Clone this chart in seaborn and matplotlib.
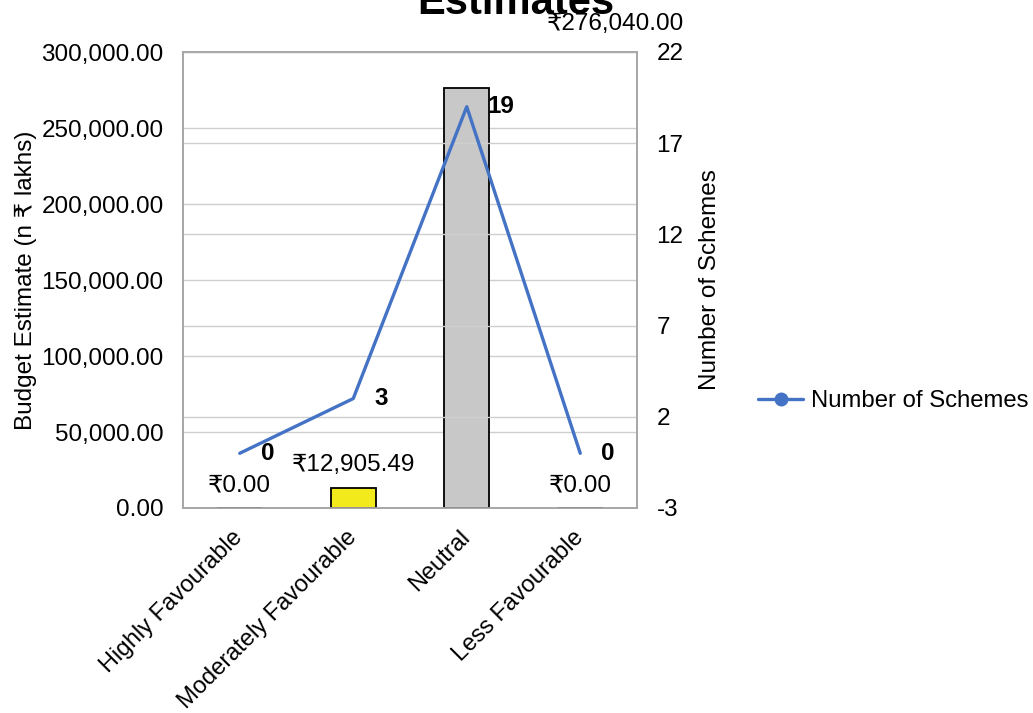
import matplotlib
matplotlib.use("Agg")
import matplotlib.pyplot as plt
import matplotlib.transforms as mtransforms
from matplotlib.lines import Line2D
from matplotlib.ticker import FuncFormatter, MultipleLocator
import seaborn as sns
import numpy as np

categories = ["Highly Favourable", "Moderately Favourable", "Neutral", "Less Favourable"]
budget = [0.0, 12905.49, 276040.00, 0.0]
schemes = [0, 3, 19, 0]
right_ticks = [-3, 2, 7, 12, 17, 22]
bar_colors = ["#4472C4", "#F2EA1A", "#C8C8C8", "#A5A5A5"]
title_text = "Estimates"
left_label = "Budget Estimate (n ₹ lakhs)"
right_label = "Number of Schemes"
line_color = "#4472C4"

sns.set_style("white")
plt.rcParams["font.family"] = ["Liberation Sans", "DejaVu Sans"]
plt.rcParams["axes.unicode_minus"] = False
for k in ["text.color", "axes.labelcolor", "xtick.color", "ytick.color"]:
    plt.rcParams[k] = "black"

FS = 17.5
W, H = 1033, 713
fig = plt.figure(figsize=(W / 100, H / 100), dpi=100)
ax = fig.add_axes([183 / W, 1 - 508 / H, (637 - 183) / W, (508 - 52) / H])

sns.barplot(x=categories, y=budget, hue=categories, palette=bar_colors, legend=False,
            saturation=1, edgecolor="black", linewidth=1.3, width=0.4, ax=ax, zorder=3)
ax.set_ylim(0, 300000)
ax.yaxis.set_major_locator(MultipleLocator(50000))
ax.yaxis.set_major_formatter(FuncFormatter(lambda v, p: f"{v:,.2f}"))
ax.grid(axis="y", color="#CFCFCF", linewidth=1.0, zorder=0)
ax.set_axisbelow(True)
ax.set_xlabel("")
ax.set_ylabel(left_label, fontsize=FS, labelpad=3)
ax.tick_params(axis="y", labelsize=FS, length=0, pad=14)
ax.tick_params(axis="x", labelsize=17, length=0, pad=8)
shift = mtransforms.ScaledTranslation(-0.08, -0.07, fig.dpi_scale_trans)
for lbl in ax.get_xticklabels():
    lbl.set_rotation(45)
    lbl.set_ha("right")
    lbl.set_va("top")
    lbl.set_rotation_mode("anchor")
    lbl.set_transform(lbl.get_transform() + shift)
for s in ax.spines.values():
    s.set_color("#A6A6A6")
    s.set_linewidth(1.2)

ax2 = ax.twinx()
sns.lineplot(x=categories, y=schemes, ax=ax2, color=line_color, linewidth=2.4, sort=False)
ax.set_xlim(-0.5, len(categories) - 0.5)
ax2.set_ylim(-3, 22)
ax2.set_yticks(right_ticks)
ax2.grid(axis="y", color="#CFCFCF", linewidth=1.0, zorder=0)
ax2.set_ylabel(right_label, fontsize=FS, labelpad=11)
ax2.tick_params(axis="y", labelsize=FS, length=0, pad=14)
for s in ax2.spines.values():
    s.set_color("#A6A6A6")
    s.set_linewidth(1.2)

# bar data labels
for i, v in enumerate(budget):
    if i == 2:
        ax.annotate(f"₹{v:,.2f}", xy=(i, v), xytext=(149, 64), textcoords="offset pixels",
                    ha="center", va="center", fontsize=FS, annotation_clip=False)
    else:
        ax.annotate(f"₹{v:,.2f}", xy=(i, v), xytext=(0, 23), textcoords="offset pixels",
                    ha="center", va="center", fontsize=FS)

# line data labels
for i, v in enumerate(schemes):
    ax2.annotate(f"{v}", xy=(i, v), xytext=(21, 0), textcoords="offset pixels",
                 ha="left", va="center", fontsize=FS, fontweight="bold")

fig.text(0.4995, 1 - 14 / H, title_text, ha="center", va="baseline",
         fontsize=30, fontweight="bold")

handle = Line2D([], [], color=line_color, linewidth=2.4, marker="o", markersize=9)
fig.legend([handle], [right_label], loc="center left", bbox_to_anchor=(758 / W, 1 - 401 / H),
           frameon=False, fontsize=17.2, handlelength=1.9, handletextpad=0.3,
           borderpad=0, borderaxespad=0)

fig.savefig("out.png", dpi=100)
